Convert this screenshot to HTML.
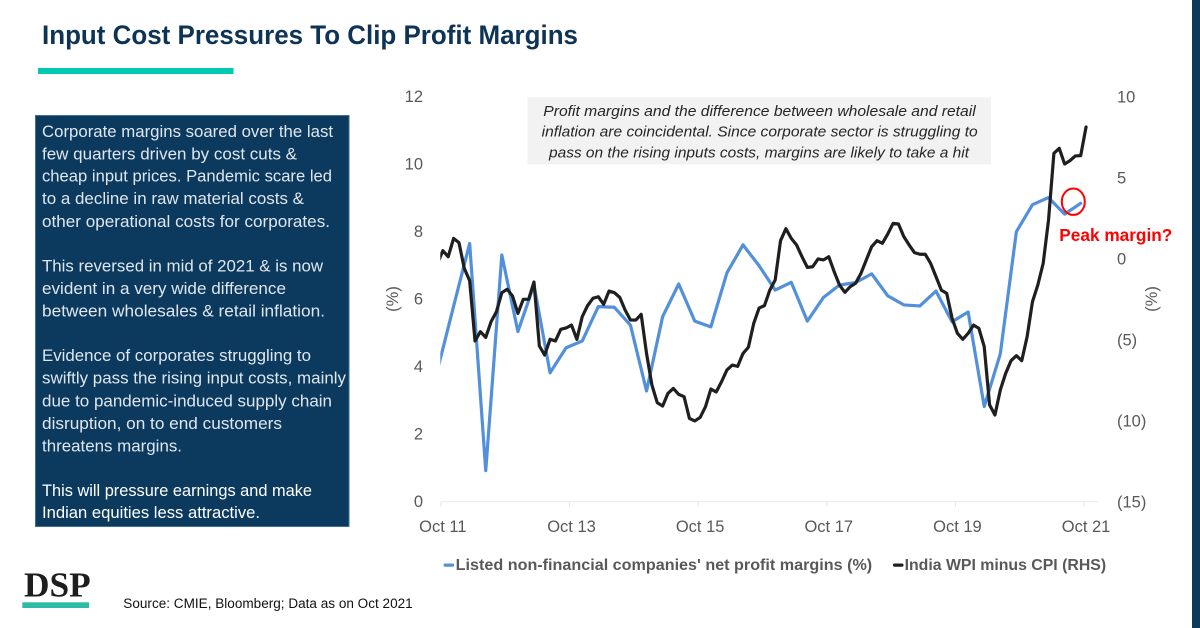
<!DOCTYPE html>
<html lang="en">
<head>
<meta charset="utf-8">
<title>Input Cost Pressures To Clip Profit Margins</title>
<style>
html,body{margin:0;padding:0;background:#fff;width:1200px;height:628px;overflow:hidden}
svg{display:block}
text{font-family:"Liberation Sans",sans-serif}
.body-line{font-size:16.5px;fill:#dfe6ed}
.body-strong{font-size:16.5px;fill:#fff}
.note{font-size:14.5px;font-style:italic;fill:#262626}
.tick{font-size:16.5px;fill:#595959}
.legend{font-size:15.5px;font-weight:bold;fill:#595959}
</style>
</head>
<body>
<svg id="slide" xmlns="http://www.w3.org/2000/svg" width="1200" height="628" viewBox="0 0 1200 628">
  <rect x="0" y="0" width="1200" height="628" fill="#fff"/>
  <rect x="1192" y="0" width="8" height="628" fill="#0b3a5e"/>

  <text x="42" y="44" font-size="26.5" font-weight="bold" fill="#0d3356" textLength="536" lengthAdjust="spacingAndGlyphs">Input Cost Pressures To Clip Profit Margins</text>
  <rect x="38" y="68" width="195.500" height="6" fill="#00c9b1"/>

  <g>
    <rect x="35.500" y="115.500" width="313.500" height="411" fill="#0b3a5e" stroke="#3f6f95" stroke-width="1"/>
    <text class="body-line" x="42" y="137" textLength="291" lengthAdjust="spacingAndGlyphs">Corporate margins soared over the last</text>
    <text class="body-line" x="42" y="159.500" textLength="255" lengthAdjust="spacingAndGlyphs">few quarters driven by cost cuts &amp;</text>
    <text class="body-line" x="42" y="181.700" textLength="290" lengthAdjust="spacingAndGlyphs">cheap input prices. Pandemic scare led</text>
    <text class="body-line" x="42" y="204" textLength="262" lengthAdjust="spacingAndGlyphs">to a decline in raw material costs &amp;</text>
    <text class="body-line" x="42" y="227" textLength="288" lengthAdjust="spacingAndGlyphs">other operational costs for corporates.</text>
    <text class="body-line" x="42" y="271.700" textLength="281" lengthAdjust="spacingAndGlyphs">This reversed in mid of 2021 &amp; is now</text>
    <text class="body-line" x="42" y="294" textLength="244" lengthAdjust="spacingAndGlyphs">evident in a very wide difference</text>
    <text class="body-line" x="42" y="316.700" textLength="283" lengthAdjust="spacingAndGlyphs">between wholesales &amp; retail inflation.</text>
    <text class="body-line" x="42" y="361" textLength="269" lengthAdjust="spacingAndGlyphs">Evidence of corporates struggling to</text>
    <text class="body-line" x="42" y="383.700" textLength="304" lengthAdjust="spacingAndGlyphs">swiftly pass the rising input costs, mainly</text>
    <text class="body-line" x="42" y="406.700" textLength="290" lengthAdjust="spacingAndGlyphs">due to pandemic-induced supply chain</text>
    <text class="body-line" x="42" y="429" textLength="240" lengthAdjust="spacingAndGlyphs">disruption, on to end customers</text>
    <text class="body-line" x="42" y="451.700" textLength="140" lengthAdjust="spacingAndGlyphs">threatens margins.</text>
    <text class="body-strong" x="42" y="496" textLength="270" lengthAdjust="spacingAndGlyphs">This will pressure earnings and make</text>
    <text class="body-strong" x="42" y="518" textLength="218" lengthAdjust="spacingAndGlyphs">Indian equities less attractive.</text>
  </g>

  <g id="chart">
    <defs>
      <clipPath id="plot-clip"><rect x="440.300" y="80" width="700" height="430"/></clipPath>
    </defs>
    <line x1="441" y1="501.700" x2="1098" y2="501.700" stroke="#e8e8e8" stroke-width="1"/>
    <g id="x-ticks"></g>
    <g id="x-labels"></g>
    <g id="y-left-labels"></g>
    <g id="y-right-labels"></g>
    <text class="tick" text-anchor="middle" transform="translate(398,299) rotate(-90)">(%)</text>
    <text class="tick" text-anchor="middle" transform="translate(1157,299) rotate(-90)">(%)</text>

    <rect x="527.500" y="97.300" width="463.500" height="67" fill="#f2f2f2"/>
    <text class="note" x="543.300" y="116" textLength="432.400" lengthAdjust="spacingAndGlyphs">Profit margins and the difference between wholesale and retail</text>
    <text class="note" x="541.700" y="136.700" textLength="436" lengthAdjust="spacingAndGlyphs">inflation are coincidental. Since corporate sector is struggling to</text>
    <text class="note" x="549" y="157.300" textLength="420" lengthAdjust="spacingAndGlyphs">pass on the rising inputs costs, margins are likely to take a hit</text>

    <g clip-path="url(#plot-clip)">
      <path id="line-margins" fill="none" stroke="#5290db" stroke-width="3.200" stroke-linejoin="round" stroke-linecap="round"/>
      <path id="line-wpi-cpi" fill="none" stroke="#1f1f1f" stroke-width="3.200" stroke-linejoin="round" stroke-linecap="round"/>
    </g>

    <ellipse cx="1073.300" cy="201.700" rx="11.500" ry="13.200" fill="none" stroke="#ff0000" stroke-width="2"/>
    <text x="1059.300" y="241" font-size="17.500" font-weight="bold" fill="#ff0000" textLength="113" lengthAdjust="spacingAndGlyphs">Peak margin?</text>

    <g>
      <rect x="443.600" y="563.500" width="10.500" height="3.200" rx="1.500" fill="#5290db"/>
      <text class="legend" x="455.700" y="570" textLength="416.500" lengthAdjust="spacingAndGlyphs">Listed non-financial companies' net profit margins (%)</text>
      <rect x="893" y="563.500" width="10.500" height="3.200" rx="1.500" fill="#1f1f1f"/>
      <text class="legend" x="904.600" y="570" textLength="201.500" lengthAdjust="spacingAndGlyphs">India WPI minus CPI (RHS)</text>
    </g>
  </g>

  <g>
    <text x="24" y="596.700" style="font-family:'Liberation Serif',serif" font-size="35" font-weight="bold" fill="#1d1d1d" textLength="66.700" lengthAdjust="spacingAndGlyphs">DSP</text>
    <rect x="22.300" y="602.300" width="66.700" height="5.700" fill="#2dbba6"/>
  </g>
  <text x="123.300" y="608" font-size="13.500" fill="#111" textLength="289.400" lengthAdjust="spacingAndGlyphs">Source: CMIE, Bloomberg; Data as on Oct 2021</text>
</svg>

<script>
// Month index 0 = Sep 2011. The margin series is quarterly, the inflation gap monthly.
const xTickLabels = ['Oct 11', 'Oct 13', 'Oct 15', 'Oct 17', 'Oct 19', 'Oct 21'];
const xTickMonths = [1, 25, 49, 73, 97, 121];
const leftTicks = [0, 2, 4, 6, 8, 10, 12];
const rightTicks = [-15, -10, -5, 0, 5, 10];
const monthsPerQuarter = 3;

// Listed non-financial companies' net profit margins (%), quarterly
const marginValues = [
  3.88, 5.77, 7.63, 0.90, 7.29, 5.02, 6.40, 3.80, 4.54, 4.74,
  5.76, 5.74, 5.21, 3.26, 5.46, 6.43, 5.33, 5.16, 6.76, 7.59,
  6.97, 6.25, 6.48, 5.33, 6.03, 6.40, 6.47, 6.73, 6.08, 5.81,
  5.78, 6.22, 5.31, 5.60, 2.80, 4.36, 7.98, 8.78, 8.99, 8.50,
  8.82
];

// India WPI minus CPI (RHS), monthly
const wpiCpiValues = [
  -0.33, 0.45, 0.08, 1.21, 0.95, -0.64, -1.40, -5.12, -4.55, -4.90,
  -3.93, -3.31, -2.14, -1.93, -2.35, -3.42, -2.55, -2.55, -1.48, -5.43,
  -5.99, -5.02, -5.12, -4.40, -4.32, -4.14, -5.02, -3.62, -2.94, -2.49,
  -2.39, -2.86, -2.04, -2.14, -2.43, -3.21, -3.83, -3.83, -3.48, -5.89,
  -7.84, -8.93, -9.14, -8.35, -8.05, -8.42, -8.56, -9.90, -10.06, -9.84,
  -9.18, -8.09, -8.27, -7.63, -6.91, -6.61, -6.69, -5.89, -5.51, -4.03,
  -3.09, -2.94, -1.98, -1.36, 1.07, 1.81, 1.21, 0.80, 0.08, -0.58,
  -0.54, -0.06, -0.12, 0.08, -0.84, -1.67, -2.12, -1.77, -1.56, -0.95,
  -0.12, 0.70, 1.07, 0.91, 1.48, 2.14, 2.10, 1.32, 0.80, 0.33,
  0.23, 0.23, -0.33, -1.15, -1.98, -2.18, -3.72, -4.65, -5.02, -4.65,
  -4.14, -4.34, -5.47, -9.07, -9.69, -8.15, -7.12, -6.34, -6.03, -6.34,
  -4.86, -2.70, -1.67, -0.33, 2.35, 6.46, 6.77, 5.80, 6.01, 6.30,
  6.32, 8.09
];

function xScale(month) { return 437.5 + 5.36 * month; }
function yLeft(v) { return 501 - v * (405 / 12); }
function yRight(v) { return 501 - (v + 15) * (405 / 25); }

function linePath(values, xOf, yOf) {
  return values.map(function (v, i) {
    return (i === 0 ? 'M' : 'L') + xOf(i).toFixed(2) + ' ' + yOf(v).toFixed(2);
  }).join(' ');
}

document.getElementById('line-margins').setAttribute('d',
  linePath(marginValues, function (i) { return xScale(i * monthsPerQuarter); }, yLeft));
document.getElementById('line-wpi-cpi').setAttribute('d',
  linePath(wpiCpiValues, xScale, yRight));

const SVG_NS = 'http://www.w3.org/2000/svg';

function makeText(content, x, y, anchor) {
  const t = document.createElementNS(SVG_NS, 'text');
  t.setAttribute('class', 'tick');
  t.setAttribute('x', x);
  t.setAttribute('y', y);
  t.setAttribute('text-anchor', anchor);
  t.textContent = content;
  return t;
}

xTickLabels.forEach(function (label, i) {
  const cx = xScale(xTickMonths[i]);
  const tick = document.createElementNS(SVG_NS, 'line');
  
  
  tick.setAttribute('x1', cx - 2);
  tick.setAttribute('x2', cx - 2);
  tick.setAttribute('y1', 501.7);
  tick.setAttribute('y2', 507);
  tick.setAttribute('stroke', '#e8e8e8');
  document.getElementById('x-ticks').appendChild(tick);
  const lab = makeText(label, cx, 532, 'middle');
  
  
  document.getElementById('x-labels').appendChild(lab);
});

leftTicks.forEach(function (v) {
  const lab = makeText(String(v), 423, yLeft(v) + 6, 'end');
  
  
  document.getElementById('y-left-labels').appendChild(lab);
});

rightTicks.forEach(function (v) {
  const text = v < 0 ? '(' + Math.abs(v) + ')' : String(v);
  const lab = makeText(text, 1117, yRight(v) + 6.5, 'start');
  
  
  document.getElementById('y-right-labels').appendChild(lab);
});
</script>
</body>
</html>
